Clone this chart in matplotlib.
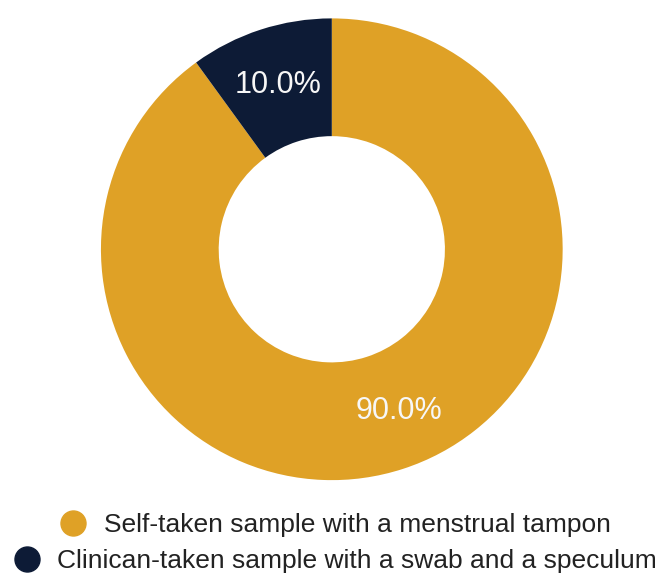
import numpy as np
import matplotlib.pyplot as plt
from matplotlib.lines import Line2D

plt.rcParams['font.family'] = ['Liberation Sans', 'DejaVu Sans']

# data
labels = ['Self-taken sample with a menstrual tampon',
          'Clinican-taken sample with a swab and a speculum']
values = [90.0, 10.0]
colors = ['#DFA126', '#0D1B36']

fig = plt.figure(figsize=(6.59, 5.75), dpi=100)
ax = fig.add_axes([0.153, 0.165, 0.701, 0.803])

wedges, texts, autotexts = ax.pie(values, colors=colors, startangle=90,
                                  counterclock=False, autopct='%.1f%%',
                                  pctdistance=0.75,
                                  wedgeprops=dict(width=0.51, linewidth=0),
                                  textprops=dict(color='#F7F7F7', fontsize=22))
# nudge the big label a bit clockwise like the original
th = np.deg2rad(-67.5)
autotexts[0].set_position((0.76 * np.cos(th), 0.76 * np.sin(th)))
ax.set_xlim(-1, 1)
ax.set_ylim(-1, 1)
ax.set_aspect('equal')

# two legend rows, each centred on its own
ys = [1 - 525 / 575, 1 - 561 / 575]
for lab, col, y in zip(labels, colors, ys):
    h = Line2D([], [], marker='o', linestyle='', markersize=18,
               markerfacecolor=col, markeredgecolor=col)
    leg = fig.legend([h], [lab], loc='center', bbox_to_anchor=(0.507, y),
                     frameon=False, fontsize=19, handletextpad=0.55,
                     borderpad=0, handlelength=1.2)
    for t in leg.get_texts():
        t.set_color('#222222')

fig.savefig('out.png', dpi=100)
